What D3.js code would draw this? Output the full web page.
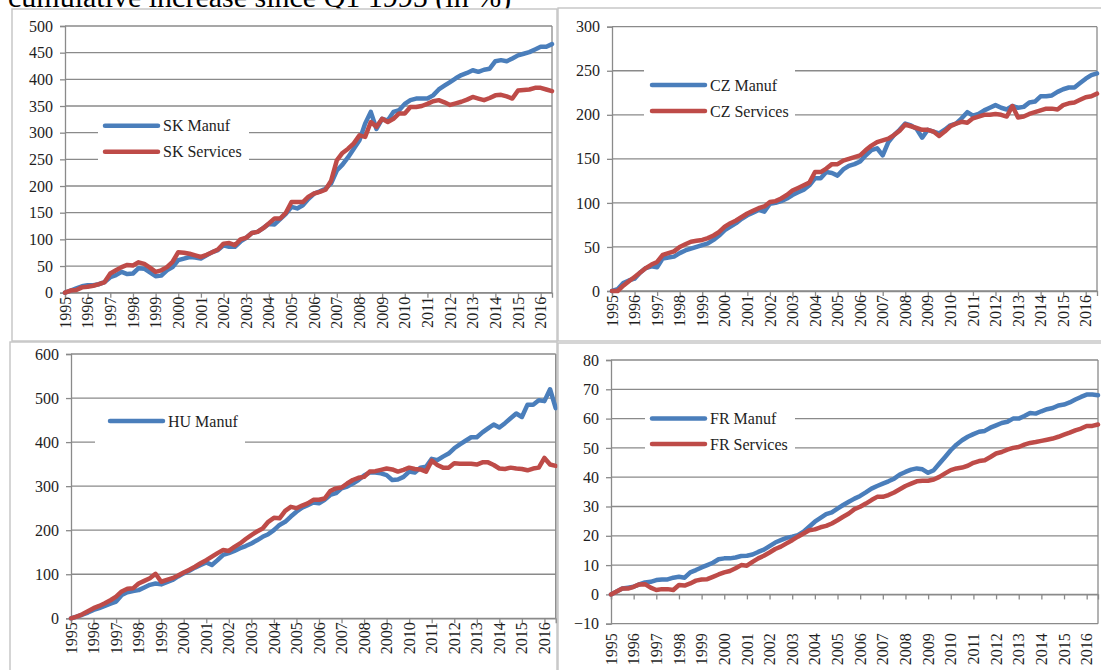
<!DOCTYPE html>
<html>
<head>
<meta charset="utf-8">
<script src="https://cdn.jsdelivr.net/npm/d3@7"></script>
<style>
  html, body { margin: 0; padding: 0; background: #fff; }
  svg { display: block; }
  text { font-family: "Liberation Serif", "Times New Roman", serif; fill: #1e1e1e; }
</style>
</head>
<body>
<svg id="chart" width="1101" height="670"></svg>
<script>
// Quarterly categories, 1995Q1 .. 2016Q3
const years = [1995,1996,1997,1998,1999,2000,2001,2002,2003,2004,2005,2006,2007,2008,2009,2010,2011,2012,2013,2014,2015,2016];
const quarterNames = ["Q1","Q2","Q3","Q4"];
const lastQuarterCount = 87;

const titleText = "cumulative increase since Q1 1995 (in %)";

// Cumulative increase since Q1 1995, in %
const skManuf = [
  0, 4, 8, 12,   14, 14, 16, 20,   29, 33, 39, 35,   36, 46, 45, 38,
  31, 32, 42, 48,   61, 64, 67, 66,   64, 70, 76, 80,   89, 86, 86, 96,
  103, 112, 114, 121,   129, 128, 138, 148,   161, 158, 164, 176,   186, 190, 195, 205,
  229, 240, 254, 270,   286, 317, 339, 307,   326, 323, 339, 342,   354, 361, 364, 364,
  364, 370, 381, 388,   395, 402, 408, 412,   417, 414, 418, 420,   434, 436, 434, 439,
  445, 448, 451, 456,   461, 461, 466
];
const skServices = [
  0, 4, 5, 10,   11, 13, 16, 20,   36, 42, 48, 52,   51, 57, 54, 47,
  39, 42, 48, 58,   76, 75, 73, 70,   67, 71, 76, 81,   92, 93, 89, 100,
  103, 112, 114, 121,   130, 139, 139, 150,   170, 170, 170, 180,   186, 189, 193, 210,
  248, 262, 270, 280,   295, 292, 320, 311,   326, 320, 326, 336,   336, 348, 348, 350,
  354, 359, 361, 357,   352, 355, 358, 362,   367, 364, 361, 365,   370, 371, 368, 364,
  379, 380, 381, 384,   384, 381, 378
];
const czManuf = [
  0, 2, 9, 12,   14, 21, 26, 28,   27, 37, 38, 39,   43, 46, 48, 50,
  52, 54, 58, 63,   69, 73, 77, 82,   86, 89, 92, 90,   99, 100, 102, 105,
  109, 112, 115, 120,   128, 128, 135, 134,   131, 138, 142, 144,   147, 154, 160, 162,
  154, 169, 177, 183,   190, 188, 184, 174,   183, 181, 179, 183,   188, 190, 196, 203,
  199, 201, 205, 208,   211, 208, 206, 210,   208, 209, 214, 215,   221, 221, 222, 226,
  229, 231, 231, 236,   241, 245, 247
];
const czServices = [
  0, 0, 6, 11,   16, 21, 26, 30,   33, 41, 43, 45,   50, 53, 56, 57,
  58, 60, 63, 67,   73, 77, 80, 84,   88, 91, 94, 96,   101, 102, 105, 109,
  114, 117, 120, 123,   135, 135, 139, 144,   144, 148, 150, 152,   154, 160, 165, 169,
  171, 173, 177, 182,   189, 187, 185, 183,   183, 181, 176, 181,   187, 190, 192, 191,
  196, 198, 200, 200,   201, 200, 198, 210,   197, 198, 201, 203,   205, 207, 207, 206,
  211, 213, 214, 217,   220, 221, 224
];
const huManuf = [
  0, 4, 8, 13,   19, 23, 28, 33,   38, 53, 59, 62,   64, 70, 76, 79,
  77, 82, 87, 95,   102, 108, 115, 121,   127, 121, 132, 144,   148, 153, 159, 164,
  170, 177, 185, 191,   200, 212, 219, 231,   242, 251, 257, 263,   261, 269, 280, 284,
  295, 299, 306, 314,   324, 331, 331, 329,   325, 314, 315, 321,   333, 331, 342, 344,
  362, 359, 367, 374,   386, 395, 403, 411,   411, 422, 431, 440,   433, 443, 454, 465,
  457, 485, 485, 495,   493, 520, 477
];
const huServices = [
  0, 4, 9, 16,   23, 28, 34, 41,   49, 61, 67, 68,   79, 85, 91, 101,
  83, 87, 91, 97,   104, 110, 117, 125,   132, 140, 148, 155,   153, 162, 170, 180,
  189, 197, 204, 219,   228, 227, 244, 253,   250, 256, 261, 269,   269, 272, 289, 295,
  297, 306, 314, 319,   321, 333, 334, 337,   340, 338, 333, 337,   342, 339, 338, 333,
  358, 348, 342, 342,   352, 351, 351, 351,   349, 354, 354, 348,   340, 339, 342, 340,
  339, 336, 340, 342,   364, 349, 346
];
const frManuf = [
  0, 1, 2, 2.3,   2.6, 3.4, 4.1, 4.3,   4.9, 5.1, 5.1, 5.7,   6.0, 5.7, 7.5, 8.3,
  9.2, 10.0, 10.8, 12.0,   12.3, 12.3, 12.6, 13.1,   13.2, 13.6, 14.5, 15.3,   16.5, 17.7, 18.5, 19.3,
  19.7, 20.2, 21.4, 23.1,   24.8, 26.1, 27.4, 28.0,   29.3, 30.5, 31.6, 32.7,   33.6, 34.8, 36.1, 37.0,
  37.8, 38.6, 39.5, 40.9,   41.8, 42.6, 43.0, 42.7,   41.5, 42.4, 44.7, 46.9,   49.2, 51.1, 52.6, 53.8,
  54.7, 55.5, 55.8, 56.9,   57.7, 58.5, 58.9, 60.0,   60.0, 60.9, 61.9, 61.7,   62.5, 63.2, 63.6, 64.5,
  64.8, 65.5, 66.5, 67.4,   68.2, 68.2, 68.0
];
const frServices = [
  0, 1, 2, 2,   2.6, 3.4, 3.5, 2.3,   1.5, 1.8, 1.8, 1.5,   3.2, 3.0, 3.75, 4.7,
  5.1, 5.2, 6.0, 6.8,   7.5, 8.0, 8.9, 10.0,   9.8, 11.1, 12.3, 13.2,   14.3, 15.5, 16.3, 17.4,
  18.5, 19.7, 20.8, 21.9,   22.2, 22.9, 23.4, 24.2,   25.3, 26.5, 27.6, 29.1,   29.9, 31.0, 32.2, 33.3,
  33.3, 33.9, 34.8, 35.9,   37.0, 37.8, 38.6, 38.8,   38.8, 39.2, 40.1, 41.3,   42.4, 43.0, 43.3, 43.9,
  44.9, 45.5, 45.8, 46.9,   48.1, 48.6, 49.4, 50.0,   50.3, 51.1, 51.7, 52.0,   52.4, 52.8, 53.2, 53.8,
  54.5, 55.2, 56.0, 56.6,   57.5, 57.5, 58.0
];

// Y-axis tick values per panel
const skTicks = [0, 50, 100, 150, 200, 250, 300, 350, 400, 450, 500];
const czTicks = [0, 50, 100, 150, 200, 250, 300];
const huTicks = [0, 100, 200, 300, 400, 500, 600];
const frTicks = [-10, 0, 10, 20, 30, 40, 50, 60, 70, 80];

const quarters = years.flatMap(y => quarterNames.map(q => y + q)).slice(0, lastQuarterCount);

const BLUE = "#4A7EBB";
const RED = "#BE4B48";
const GRID = "#8a8a8a";
const FRAME = "#c4c4c4";

const svg = d3.select("#chart");

// Title (sits partly above the top edge)
svg.append("text")
  .attr("x", 8).attr("y", 7)
  .attr("font-size", 30)
  .style("fill", "#000")
  .text(titleText);

const panels = [
  { frame: [12, 9, 557, 341], plot: { l: 65, r: 552, t: 26, b: 292.7 },
    ticks: skTicks,
    series: [{ name: "SK Manuf", values: skManuf, color: BLUE },
             { name: "SK Services", values: skServices, color: RED }],
    legend: { box: [98, 110, 249, 168], x: 105, rows: [125.7, 151.7], show: [0, 1] },
    labelGap: 4 },
  { frame: [558, 8, 1105, 341], plot: { l: 612, r: 1097, t: 26.7, b: 291 },
    ticks: czTicks,
    series: [{ name: "CZ Manuf", values: czManuf, color: BLUE },
             { name: "CZ Services", values: czServices, color: RED }],
    legend: { box: [644, 64, 795, 128], x: 652, rows: [85, 111], show: [0, 1] },
    labelGap: 4 },
  { frame: [10, 342, 557, 675], plot: { l: 71, r: 555.7, t: 354, b: 618.3 },
    ticks: huTicks,
    series: [{ name: "HU Manuf", values: huManuf, color: BLUE },
             { name: "HU Services", values: huServices, color: RED }],
    legend: { box: [95, 404, 245, 458], x: 110, rows: [421], show: [0] },
    labelGap: 4 },
  { frame: [558, 343, 1105, 675], plot: { l: 611, r: 1098, t: 360, b: 623.7 },
    ticks: frTicks,
    series: [{ name: "FR Manuf", values: frManuf, color: BLUE },
             { name: "FR Services", values: frServices, color: RED }],
    legend: { box: [645, 402, 795, 462], x: 652, rows: [418.5, 444], show: [0, 1] },
    labelGap: 9.5, axisAtZero: true }
];

panels.forEach(p => {
  const g = svg.append("g");
  const [fx0, fy0, fx1, fy1] = p.frame;
  g.append("rect")
    .attr("x", fx0).attr("y", fy0)
    .attr("width", fx1 - fx0).attr("height", fy1 - fy0)
    .attr("fill", "#fff").attr("stroke", FRAME).attr("stroke-width", 1.4);

  const { l, r, t, b } = p.plot;
  const x = d3.scalePoint().domain(quarters).range([l, r]).padding(0);
  const yExtent = d3.extent(p.ticks);
  const y = d3.scaleLinear().domain(yExtent).range([b, t]);

  // horizontal gridlines
  g.append("g").selectAll("line")
    .data(p.ticks.filter(v => v !== yExtent[0]))
    .join("line")
    .attr("x1", l).attr("x2", r)
    .attr("y1", d => y(d)).attr("y2", d => y(d))
    .attr("stroke", GRID).attr("stroke-width", 1.3);

  // plot-area edge on the right
  g.append("line")
    .attr("x1", r).attr("x2", r).attr("y1", t).attr("y2", b)
    .attr("stroke", GRID).attr("stroke-width", 1.3);

  // bottom edge of the plot area
  g.append("line")
    .attr("x1", l).attr("x2", r).attr("y1", b).attr("y2", b)
    .attr("stroke", GRID).attr("stroke-width", 1.3);

  // value axis
  const yAxis = d3.axisLeft(y).tickValues(p.ticks).tickSize(5).tickPadding(7)
    .tickFormat(d3.format("d"));
  const ya = g.append("g").attr("transform", `translate(${l},0)`).call(yAxis);
  ya.select(".domain").attr("stroke", GRID).attr("stroke-width", 1.3);
  ya.selectAll(".tick line").attr("stroke", GRID).attr("stroke-width", 1.3);
  ya.selectAll(".tick text")
    .attr("font-size", 16).attr("font-family", "Liberation Serif, serif")
    .style("fill", "#1e1e1e");

  // category axis: a tick and a label at every first quarter
  const axisY = p.axisAtZero ? y(0) : b;
  const yearTicks = quarters.filter(q => q.endsWith("Q1"));
  const xAxis = d3.axisBottom(x).tickValues(yearTicks).tickSize(5).tickFormat("");
  const xa = g.append("g").attr("transform", `translate(0,${axisY})`).call(xAxis);
  xa.select(".domain").attr("stroke", GRID).attr("stroke-width", 1.3);
  xa.selectAll(".tick line").attr("stroke", GRID).attr("stroke-width", 1.3);

  g.append("g").selectAll("text")
    .data(yearTicks)
    .join("text")
    .attr("transform", d => `translate(${x(d)},${b + p.labelGap}) rotate(-90)`)
    .attr("text-anchor", "end")
    .attr("dy", "0.35em")
    .attr("font-size", 16)
    .text(d => d.slice(0, 4));

  // series
  const line = d3.line()
    .x((d, i) => x(quarters[i]))
    .y(d => y(d));
  p.series.forEach(s => {
    g.append("path")
      .datum(s.values)
      .attr("d", line)
      .attr("fill", "none")
      .attr("stroke", s.color)
      .attr("stroke-width", 4.5)
      .attr("stroke-linejoin", "round")
      .attr("stroke-linecap", "round");
  });

  // legend
  const lg = p.legend;
  g.append("rect")
    .attr("x", lg.box[0]).attr("y", lg.box[1])
    .attr("width", lg.box[2] - lg.box[0]).attr("height", lg.box[3] - lg.box[1])
    .attr("fill", "#fff");
  lg.show.forEach((si, k) => {
    const s = p.series[si];
    const ry = lg.rows[k];
    g.append("line")
      .attr("x1", lg.x).attr("x2", lg.x + 53)
      .attr("y1", ry).attr("y2", ry)
      .attr("stroke", s.color).attr("stroke-width", 4.5)
      .attr("stroke-linecap", "round");
    g.append("text")
      .attr("x", lg.x + 58).attr("y", ry)
      .attr("dy", "0.35em")
      .attr("font-size", 16)
      .text(s.name);
  });
});
</script>
</body>
</html>
